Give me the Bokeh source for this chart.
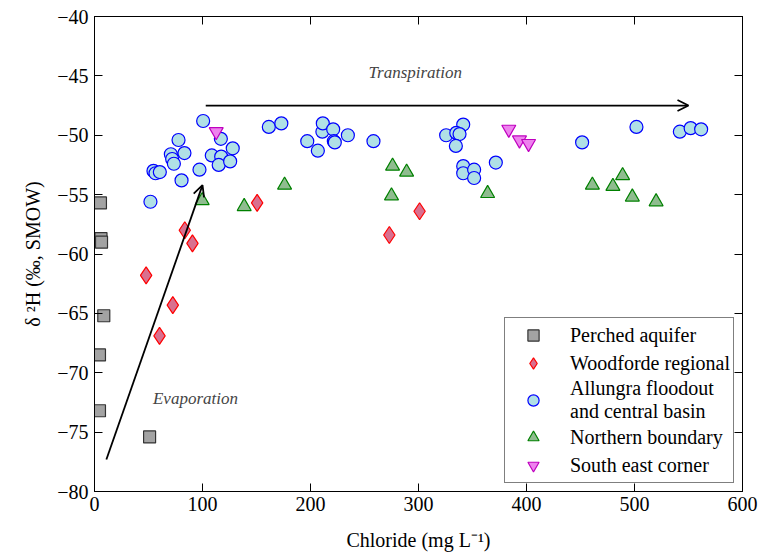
from bokeh.plotting import figure
from bokeh.models import (Range1d, FixedTicker, LinearAxis, Label, Arrow, OpenHead,
                          Legend, LegendItem, CustomLabelingPolicy)
from bokeh.embed import file_html
from bokeh.resources import INLINE

# ---- data ----
perched_x = [5.5, 6.0, 6.5, 8.6, 4.6, 4.6, 51.0]
perched_y = [-55.7, -58.7, -59.0, -65.2, -68.5, -73.2, -75.4]

wood_x = [83.6, 90.7, 47.8, 72.5, 60.2, 150.6, 301.0, 273.0]
wood_y = [-58.0, -59.1, -61.8, -64.3, -66.9, -55.7, -56.4, -58.4]

allu_x = [100.6, 77.8, 117.0, 128.0, 83.3, 70.7, 71.9, 73.5, 108.6, 117.3, 115.0, 125.6,
          54.6, 56.5, 60.5, 97.2, 80.6, 51.8, 161.4, 173.0, 197.0, 206.8, 211.0, 211.4,
          221.0, 221.6, 222.5, 234.6, 258.3, 325.6, 341.4, 335.0, 338.0, 334.6, 341.4,
          341.4, 351.5, 351.5, 371.6, 451.5, 501.8, 542.0, 552.0, 561.7]
allu_y = [-48.8, -50.4, -50.3, -51.1, -51.5, -51.6, -52.0, -52.4, -51.7, -51.8, -52.5, -52.2,
          -53.0, -53.2, -53.1, -52.9, -53.8, -55.6, -49.3, -49.0, -50.5, -51.3, -49.7, -49.0,
          -49.5, -50.5, -50.6, -50.0, -50.5, -50.0, -49.1, -49.8, -49.9, -50.9, -52.6,
          -53.2, -52.9, -53.6, -52.3, -50.6, -49.3, -49.7, -49.4, -49.5]

north_x = [99.7, 138.6, 176.0, 276.0, 289.0, 275.0, 364.0, 461.0, 480.0, 489.0, 498.0, 520.0]
north_y = [-55.5, -56.0, -54.2, -52.6, -53.1, -55.1, -54.9, -54.2, -54.3, -53.4, -55.2, -55.6]

se_x = [112.7, 383.6, 393.5, 401.9]
se_y = [-49.7, -49.5, -50.4, -50.7]

x_ticks = [0, 100, 200, 300, 400, 500, 600]
y_ticks = [-80, -75, -70, -65, -60, -55, -50, -45, -40]

evap_arrow = dict(x_start=11, y_start=-77.3, x_end=100, y_end=-54.2)
trans_arrow = dict(x_start=103, y_start=-47.5, x_end=550, y_end=-47.5)

FONT = "Liberation Serif"

p = figure(width=766, height=555, output_backend="svg", toolbar_location=None,
           x_range=Range1d(0, 600), y_range=Range1d(-80, -40),
           min_border_left=94, min_border_right=24, min_border_top=16, min_border_bottom=64)
p.background_fill_color = "white"
p.border_fill_color = "white"
p.grid.visible = False
p.outline_line_color = "black"
p.outline_line_width = 1

for ax in (p.xaxis[0], p.yaxis[0]):
    ax.major_tick_in = 8
    ax.major_tick_out = 0
    ax.minor_tick_line_color = None
    ax.axis_line_color = "black"
    ax.major_tick_line_color = "black"
    ax.major_label_text_font = FONT
    ax.major_label_text_font_size = "20px"
    ax.major_label_text_color = "black"
    ax.axis_label_text_font = FONT
    ax.axis_label_text_font_size = "20px"
    ax.axis_label_text_font_style = "normal"
    ax.axis_label_text_color = "black"

p.xaxis.ticker = FixedTicker(ticks=x_ticks)
p.yaxis.ticker = FixedTicker(ticks=y_ticks)
p.yaxis.major_label_overrides = {t: ("\u2212" + str(abs(t))) for t in y_ticks}
p.xaxis.major_label_standoff = 5
p.yaxis.major_label_standoff = 6
p.xaxis.axis_label_standoff = 15
p.yaxis.axis_label_standoff = 10
p.xaxis.axis_label = "Chloride (mg L\u207b\u00b9)"
p.yaxis.axis_label = "\u03b4 \u00b2H (\u2030, SMOW)"

hide_all = CustomLabelingPolicy(code="for (const i of indices) { indices.unset(i) }\nreturn indices")
for loc, tk in (("right", y_ticks), ("above", x_ticks)):
    ax = LinearAxis(ticker=FixedTicker(ticks=tk), major_tick_in=8, major_tick_out=0,
                    minor_tick_line_color=None, major_label_policy=hide_all,
                    axis_line_color="black", major_label_standoff=0)
    p.add_layout(ax, loc)

r_per = p.scatter(perched_x, perched_y, marker="square", size=12,
                  fill_color="#a3a3a3", line_color="#333333", line_width=1.2)
r_wood = p.scatter(wood_x, wood_y, marker="diamond", size=17,
                   fill_color="#d9708f", line_color="#ff0000", line_width=1.2)
r_allu = p.scatter(allu_x, allu_y, marker="circle", size=13,
                   fill_color="#b0e0e6", line_color="#0000ff", line_width=1.2)
r_north = p.scatter(north_x, north_y, marker="triangle", size=14,
                    fill_color="#8fbc8f", line_color="#008000", line_width=1.2)
r_se = p.scatter(se_x, se_y, marker="inverted_triangle", size=14,
                 fill_color="#ee82ee", line_color="#bf00bf", line_width=1.2)

p.add_layout(Arrow(end=OpenHead(size=11, line_width=1.8, line_color="black"),
                   line_width=1.8, line_color="black", **evap_arrow))
p.add_layout(Arrow(end=OpenHead(size=11, line_width=1.8, line_color="black"),
                   line_width=1.8, line_color="black", **trans_arrow))

p.add_layout(Label(x=297, y=-44.7, text="Transpiration", text_font=FONT,
                   text_font_style="italic", text_font_size="17px",
                   text_align="center", text_baseline="middle"))
p.add_layout(Label(x=93.5, y=-72.2, text="Evaporation", text_font=FONT,
                   text_font_style="italic", text_font_size="17px",
                   text_align="center", text_baseline="middle"))

legend = Legend(items=[
    LegendItem(label="Perched aquifer", renderers=[r_per]),
    LegendItem(label="Woodforde regional", renderers=[r_wood]),
    LegendItem(label="Allungra floodout\nand central basin", renderers=[r_allu]),
    LegendItem(label="Northern boundary", renderers=[r_north]),
    LegendItem(label="South east corner", renderers=[r_se]),
], location="bottom_right")
legend.label_text_font = FONT
legend.label_text_font_size = "20px"
legend.label_text_line_height = 1.1
legend.label_text_color = "black"
legend.border_line_color = "black"
legend.border_line_width = 1.5
legend.background_fill_alpha = 1
legend.padding = 3
legend.spacing = 0
legend.margin = 8
legend.glyph_width = 50
legend.glyph_height = 28
legend.label_standoff = 12
legend.label_height = 22
p.add_layout(legend)

open("out.html", "w").write(file_html(p, INLINE))
